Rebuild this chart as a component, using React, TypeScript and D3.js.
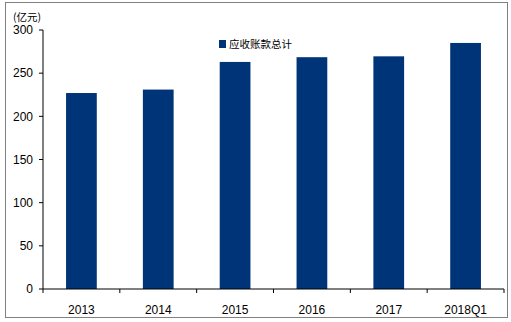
import React from "react";
import * as d3 from "d3";

const categories = ["2013", "2014", "2015", "2016", "2017", "2018Q1"];
const values = [227, 231, 263, 268.5, 269.5, 285];
const yTicks = [0, 50, 100, 150, 200, 250, 300];
const seriesName = "应收账款总计";
const unitLabel = "(亿元)";

export default function App() {
  const W = 511, H = 322;
  const left = 43, right = 504, top = 30, bottom = 289;
  const x = d3.scaleBand().domain(categories).range([left, right]).paddingInner(0.6).paddingOuter(0.3);
  const y = d3.scaleLinear().domain([0, 300]).range([bottom, top]);
  const edges = d3.range(categories.length + 1).map((i) => left + (i * (right - left)) / categories.length);
  const font = "Liberation Sans, Arial, sans-serif";
  return (
    <svg width={W} height={H} style={{ position: "absolute", left: 0, top: 0 }}>
      <rect x={5.5} y={2.5} width={502} height={315} fill="#fff" stroke="#808080" strokeWidth={1} />
      {categories.map((c, i) => (
        <rect key={c} x={x(c)} y={y(values[i])} width={x.bandwidth()} height={bottom - y(values[i])} fill="#003478" />
      ))}
      <line x1={left} x2={left} y1={top} y2={bottom} stroke="#000" />
      <line x1={left} x2={right} y1={bottom} y2={bottom} stroke="#000" />
      {yTicks.map((t) => (
        <g key={t}>
          <line x1={left - 4} x2={left} y1={y(t)} y2={y(t)} stroke="#000" />
          <text x={left - 10} y={y(t)} dy="0.35em" textAnchor="end" fontFamily={font} fontSize={12} fill="#000">{t}</text>
        </g>
      ))}
      {edges.map((e, i) => (
        <line key={i} x1={e} x2={e} y1={bottom} y2={bottom + 4} stroke="#000" />
      ))}
      {categories.map((c) => (
        <text key={c} x={(x(c) as number) + x.bandwidth() / 2} y={310} dy="0.35em" textAnchor="middle" fontFamily={font} fontSize={12} fill="#000">{c}</text>
      ))}
      <text x={13} y={17} dy="0.35em" fontFamily="Noto Sans CJK SC, sans-serif" fontSize={10.5} fill="#000">{unitLabel}</text>
      <rect x={219} y={40} width={7} height={8} fill="#003478" />
      <text x={229} y={44} dy="0.35em" fontFamily="Noto Sans CJK SC, sans-serif" fontSize={10.5} fill="#000">{seriesName}</text>
    </svg>
  );
}
